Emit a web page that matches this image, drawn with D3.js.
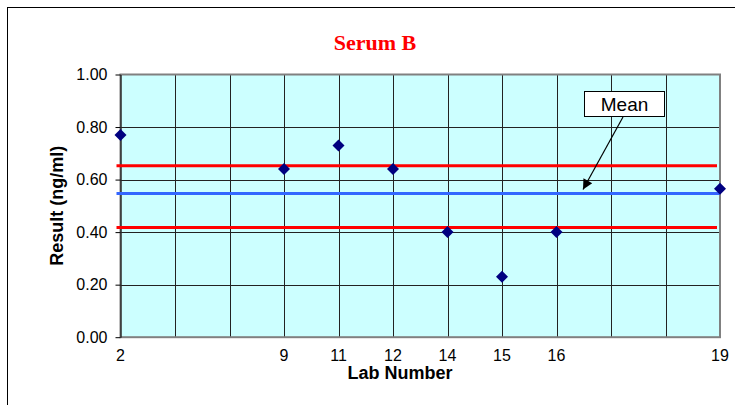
<!DOCTYPE html>
<html>
<head>
<meta charset="utf-8">
<script src="https://cdn.jsdelivr.net/npm/d3@7"></script>
<style>
  body { margin: 0; background: #fff; }
  text { font-family: Arial, "Liberation Sans", sans-serif; }
</style>
</head>
<body>
<div id="chart"></div>
<script>
// lab numbers along x (blank slots are empty categories)
const labs = ["2", "", "", "9", "11", "12", "14", "15", "16", "", "", "19"]
const results = [0.77, null, null, 0.64, 0.73, 0.64, 0.40, 0.23, 0.40, null, null, 0.565]
const mean = 0.547
const limits = [0.653, 0.418]
const yTicks = [0, 0.2, 0.4, 0.6, 0.8, 1.0]

const W = 735, H = 405
const m = { left: 120.5, right: 15, top: 74.5, bottom: 67.5 }

const svg = d3.select('#chart')
  .append('svg')
    .attr('width', W)
    .attr('height', H)

// chart area border
svg.append('rect')
  .attr('x', 7.5).attr('y', 7.5)
  .attr('width', W + 20).attr('height', H + 20)
  .style('fill', 'white')
  .style('stroke', 'black')
  .style('stroke-width', 1)

const x = d3.scalePoint()
  .domain(d3.range(labs.length))
  .range([m.left, W - m.right])

const y = d3.scaleLinear()
  .domain([0, 1])
  .range([H - m.bottom - 0.3, m.top])

// plot background
svg.append('rect')
  .attr('x', m.left).attr('y', m.top)
  .attr('width', x.range()[1] - m.left)
  .attr('height', y(0) - m.top)
  .style('fill', '#CCFFFF')

// grid
const grid = svg.append('g').attr('id', 'grid')
grid.selectAll('line.v')
  .data(d3.range(1, labs.length - 1))
  .enter()
  .append('line')
    .attr('class', 'v')
    .attr('x1', d => Math.round(x(d)) + 0.5)
    .attr('x2', d => Math.round(x(d)) + 0.5)
    .attr('y1', m.top)
    .attr('y2', y(0))
    .style('stroke', '#222')
grid.selectAll('line.h')
  .data(yTicks.slice(1, -1))
  .enter()
  .append('line')
    .attr('class', 'h')
    .attr('x1', m.left)
    .attr('x2', x.range()[1])
    .attr('y1', d => Math.round(y(d)) + 0.5)
    .attr('y2', d => Math.round(y(d)) + 0.5)
    .style('stroke', '#222')

// plot frame
svg.append('rect')
  .attr('x', m.left).attr('y', m.top)
  .attr('width', x.range()[1] - m.left)
  .attr('height', y(0) - m.top)
  .style('fill', 'none')
  .style('stroke', '#808080')
  .style('stroke-width', 2)

// y axis
const yAxis = svg.append('g')
  .attr('transform', `translate(${m.left},0)`)
  .call(d3.axisLeft(y).tickValues(yTicks).tickFormat(d3.format('.2f')).tickSize(5).tickSizeOuter(0))
yAxis.select('.domain').style('stroke', 'black')
yAxis.selectAll('text')
  .style('font-size', '16px')
  .style('fill', 'black')
  .attr('x', -13)

// x axis labels
svg.append('g')
  .selectAll('text')
  .data(labs)
  .enter()
  .append('text')
    .attr('x', (d, i) => x(i))
    .attr('y', 361)
    .attr('text-anchor', 'middle')
    .style('font-size', '16px')
    .text(d => d)

// limit and mean lines
svg.selectAll('line.limit')
  .data(limits)
  .enter()
  .append('line')
    .attr('class', 'limit')
    .attr('x1', m.left - 4)
    .attr('x2', x.range()[1] - 3)
    .attr('y1', d => y(d))
    .attr('y2', d => y(d))
    .style('stroke', '#FF0000')
    .style('stroke-width', 3)
svg.append('line')
  .attr('x1', m.left - 4)
  .attr('x2', x.range()[1])
  .attr('y1', y(mean))
  .attr('y2', y(mean))
  .style('stroke', '#3366FF')
  .style('stroke-width', 3)

// points
svg.append('g')
  .selectAll('path')
  .data(results.map((v, i) => ({ v, i })).filter(d => d.v != null))
  .enter()
  .append('path')
    .attr('d', 'M0,-6L6,0L0,6L-6,0Z')
    .attr('transform', d => `translate(${x(d.i)},${y(d.v)})`)
    .style('fill', '#000080')

// mean callout
svg.append('defs')
  .append('marker')
    .attr('id', 'head')
    .attr('viewBox', '0 0 10 10')
    .attr('refX', 10).attr('refY', 5)
    .attr('markerWidth', 12).attr('markerHeight', 10)
    .attr('markerUnits', 'userSpaceOnUse')
    .attr('orient', 'auto')
  .append('path')
    .attr('d', 'M0,0L10,5L0,10Z')
    .style('fill', 'black')
svg.append('line')
  .attr('x1', 623).attr('y1', 117)
  .attr('x2', 583).attr('y2', y(mean) - 4)
  .style('stroke', 'black')
  .style('stroke-width', 1.2)
  .attr('marker-end', 'url(#head)')
svg.append('rect')
  .attr('x', 584.5).attr('y', 91.5)
  .attr('width', 80).attr('height', 25)
  .style('fill', 'white')
  .style('stroke', 'black')
svg.append('text')
  .attr('x', 624.5).attr('y', 111)
  .attr('text-anchor', 'middle')
  .style('font-size', '19px')
  .text('Mean')

// titles
svg.append('text')
  .attr('x', 375).attr('y', 50)
  .attr('text-anchor', 'middle')
  .style('font-family', '"Liberation Serif", "Times New Roman", serif')
  .style('font-weight', 'bold')
  .style('font-size', '22px')
  .style('fill', '#FF0000')
  .text('Serum B')
svg.append('text')
  .attr('x', 400).attr('y', 379)
  .attr('text-anchor', 'middle')
  .style('font-weight', 'bold')
  .style('font-size', '18px')
  .text('Lab Number')
svg.append('text')
  .attr('transform', `translate(63,${(m.top + y(0)) / 2}) rotate(-90)`)
  .attr('text-anchor', 'middle')
  .style('font-weight', 'bold')
  .style('font-size', '18px')
  .text('Result (ng/ml)')
</script>
</body>
</html>
